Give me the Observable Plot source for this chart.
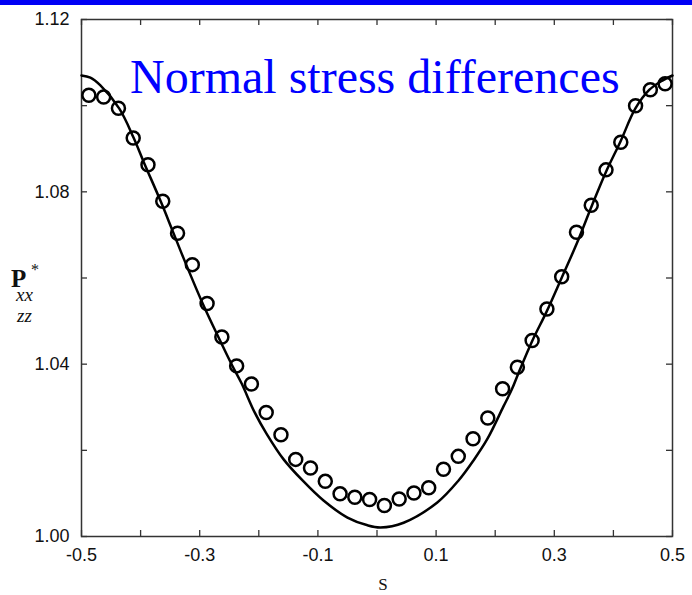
<!DOCTYPE html>
<html><head><meta charset="utf-8">
<script src="https://cdn.jsdelivr.net/npm/d3@7"></script>
<script src="https://cdn.jsdelivr.net/npm/@observablehq/plot@0.6"></script>
<style>body{margin:0;background:#fff} #chart{width:692px;height:595px}</style>
</head><body><div id="chart"></div>
<script>
// Solid curve (theory)
const curveS = [-0.5, -0.485, -0.468, -0.436, -0.412, -0.395, -0.366, -0.346, -0.327, -0.295, -0.268, -0.245, -0.229, -0.207, -0.187, -0.158, -0.126, -0.091, -0.050, -0.016, 0.006, 0.045, 0.102, 0.138, 0.163, 0.187, 0.214, 0.228, 0.239, 0.263, 0.287, 0.312, 0.338, 0.363, 0.387, 0.412, 0.437, 0.461, 0.480, 0.5];
const curveP = [1.1070, 1.1065, 1.1047, 1.0993, 1.0926, 1.0870, 1.0778, 1.0710, 1.0645, 1.0541, 1.0462, 1.0397, 1.0355, 1.0288, 1.0239, 1.0179, 1.0130, 1.0084, 1.0044, 1.0026, 1.0021, 1.0032, 1.0079, 1.0130, 1.0176, 1.0227, 1.0302, 1.0341, 1.0378, 1.0455, 1.0522, 1.0599, 1.0680, 1.0766, 1.0845, 1.0917, 1.0993, 1.1037, 1.1056, 1.1070];
// Open circles (simulation)
const pointS = [-0.4875, -0.4625, -0.4375, -0.4125, -0.3875, -0.3625, -0.3375, -0.3125, -0.2875, -0.2625, -0.2375, -0.2125, -0.1875, -0.1625, -0.1375, -0.1125, -0.0875, -0.0625, -0.0375, -0.0125, 0.0125, 0.0375, 0.0625, 0.0875, 0.1125, 0.1375, 0.1625, 0.1875, 0.2125, 0.2375, 0.2625, 0.2875, 0.3125, 0.3375, 0.3625, 0.3875, 0.4125, 0.4375, 0.4625, 0.4875];
const pointP = [1.1024, 1.1020, 1.0994, 1.0925, 1.0863, 1.0778, 1.0704, 1.0631, 1.0541, 1.0463, 1.0396, 1.0354, 1.0288, 1.0236, 1.0179, 1.0159, 1.0128, 1.0099, 1.0091, 1.0086, 1.0072, 1.0087, 1.0101, 1.0113, 1.0156, 1.0186, 1.0227, 1.0275, 1.0343, 1.0393, 1.0455, 1.0528, 1.0603, 1.0706, 1.0769, 1.0851, 1.0915, 1.1000, 1.1037, 1.1051];

const xTicks = [-0.5, -0.4, -0.3, -0.2, -0.1, 0, 0.1, 0.2, 0.3, 0.4, 0.5];
const xLabels = [-0.5, -0.3, -0.1, 0.1, 0.3, 0.5];
const yTicks = [1.00, 1.02, 1.04, 1.06, 1.08, 1.10, 1.12];
const yLabels = [1.00, 1.04, 1.08, 1.12];
const title = "Normal stress differences";
const xLabel = "S";
const yLabelMain = "P", yLabelSup = "*", yLabelSub1 = "xx", yLabelSub2 = "zz";

const curve = curveS.map((s, i) => ({s, p: curveP[i]}));
const pts = pointS.map((s, i) => ({s, p: pointP[i]}));

const W = 692, H = 595, mL = 81, mR = 20, mT = 19, mB = 59;
const innerW = W - mL - mR, innerH = H - mT - mB, tick = 6;
const axisColor = "#333";

const plot = Plot.plot({
  width: W, height: H,
  marginLeft: mL, marginRight: mR, marginTop: mT, marginBottom: mB,
  style: {fontFamily: "'Liberation Sans', Arial, sans-serif", fontSize: "18px", color: "#111", background: "#fff"},
  x: {domain: [-0.5, 0.5]},
  y: {domain: [1.0, 1.12]},
  marks: [
    Plot.frame({stroke: axisColor, strokeWidth: 1.5}),
    Plot.tickX(xTicks, {x: d => d, insetTop: innerH - tick, stroke: axisColor, strokeWidth: 1.3}),
    Plot.tickX(xTicks, {x: d => d, insetBottom: innerH - tick, stroke: axisColor, strokeWidth: 1.3}),
    Plot.tickY(yTicks, {y: d => d, insetRight: innerW - tick, stroke: axisColor, strokeWidth: 1.3}),
    Plot.tickY(yTicks, {y: d => d, insetLeft: innerW - tick, stroke: axisColor, strokeWidth: 1.3}),
    Plot.axisX(xLabels, {anchor: "bottom", tickSize: 0, tickPadding: 12, tickFormat: d => d.toFixed(1), label: null}),
    Plot.axisY(yLabels, {anchor: "left", tickSize: 0, tickPadding: 12, tickFormat: d => d.toFixed(2), label: null}),
    Plot.line(curve, {x: "s", y: "p", curve: "catmull-rom", stroke: "#000", strokeWidth: 2.5}),
    Plot.dot(pts, {x: "s", y: "p", r: 6.5, stroke: "#000", strokeWidth: 2.5, fill: "none"})
  ]
});

const svg = d3.select(plot);
const serif = "'Liberation Serif', 'Times New Roman', serif";
svg.append("rect").attr("x", 0).attr("y", 0).attr("width", W).attr("height", 5).attr("fill", "#0000f5");
svg.append("text").attr("x", 130).attr("y", 93).attr("text-anchor", "start")
  .attr("font-family", serif).attr("font-size", 48)
  .attr("fill", "#0000ff").text(title);
svg.append("text").attr("x", 383).attr("y", 590).attr("text-anchor", "middle")
  .attr("font-family", serif).attr("font-size", 17).attr("fill", "#111").text(xLabel);
svg.append("text").attr("x", 11).attr("y", 287).attr("text-anchor", "start").attr("font-family", serif).attr("font-weight", "bold")
  .attr("font-size", 25).attr("fill", "#111").text(yLabelMain);
svg.append("text").attr("x", 31).attr("y", 275).attr("text-anchor", "start").attr("font-family", serif)
  .attr("font-size", 16).attr("fill", "#111").text(yLabelSup);
svg.append("text").attr("x", 16).attr("y", 301).attr("text-anchor", "start").attr("font-family", serif).attr("font-style", "italic")
  .attr("font-size", 19).attr("fill", "#111").text(yLabelSub1);
svg.append("text").attr("x", 17).attr("y", 322).attr("text-anchor", "start").attr("font-family", serif).attr("font-style", "italic")
  .attr("font-size", 19).attr("fill", "#111").text(yLabelSub2);

document.getElementById("chart").appendChild(plot);
</script>
</body></html>
